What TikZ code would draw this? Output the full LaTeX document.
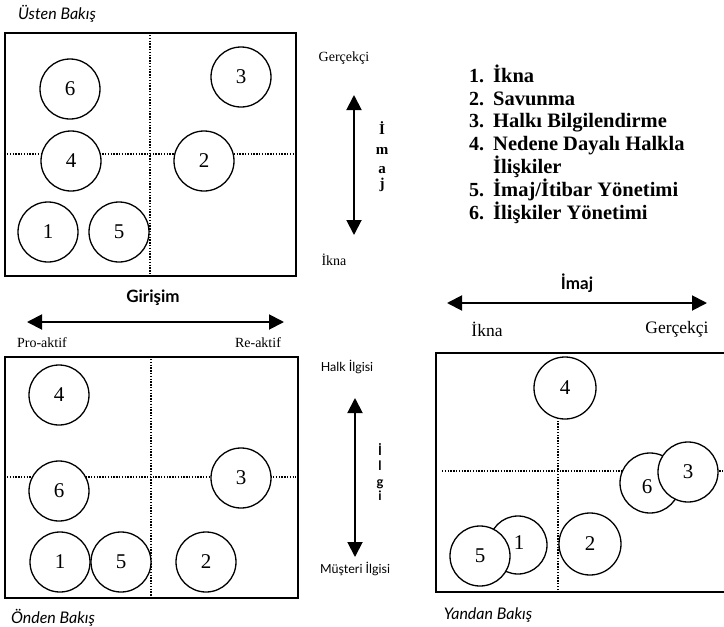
\documentclass[tikz,border=0pt]{standalone}
\usepackage{fontspec}
\setmainfont{Liberation Serif}
\newfontfamily\labelsans{Lato}
\usetikzlibrary{arrows.meta}

\begin{document}
\begin{tikzpicture}[x=1pt,y=-1pt,
  frame/.style={line width=2.6pt},
  gridline/.style={line width=1.4pt, dash pattern=on 1.4pt off 1.4pt},
  numfont/.style={font=\fontsize{21}{21}\selectfont},
  bubble/.style={circle, draw, line width=1.3pt, fill=white, minimum size=60pt,
    inner sep=0pt, numfont},
  axis/.style={line width=1.9pt,
    {Triangle[length=15pt,width=15pt]}-{Triangle[length=15pt,width=15pt]}},
  viewtitle/.style={font=\labelsans\itshape\fontsize{16}{16}\selectfont},
  axistitle/.style={font=\labelsans\bfseries\fontsize{17}{17}\selectfont},
  endlabel/.style={font=\fontsize{14}{14}\selectfont},
  biglabel/.style={font=\fontsize{17.5}{17.5}\selectfont},
  endsans/.style={font=\labelsans\fontsize{12.5}{12.5}\selectfont},
  vletter/.style={anchor=base, inner sep=0pt, font=\bfseries\fontsize{15}{15}\selectfont},
  vsans/.style={anchor=base, inner sep=0pt, font=\labelsans\bfseries\fontsize{13}{13}\selectfont},
  legnum/.style={anchor=base west, inner sep=0pt, font=\bfseries\fontsize{20}{20}\selectfont},
  legtext/.style={anchor=base west, inner sep=0pt, font=\bfseries\fontsize{20.5}{20.5}\selectfont},
]
\useasboundingbox (0,0) rectangle (724,627);

% ---------- top view ----------
\node[viewtitle] (ttitle) at (57,14) {Üsten Bakış};
\draw[gridline] (150,35) -- (150,275);
\draw[gridline] (7,154) -- (295,154);
\draw[frame] (5,33) rectangle (296,276);
\node[bubble] (t6) at (70,89)  {6};
\node[bubble] (t3) at (241,77) {3};
\node[bubble] (t4) at (71,161) {4};
\node[bubble] (t2) at (204,161) {2};
\node[bubble] (t1) at (48,232) {1};
\node[bubble] (t5) at (119,232) {5};

% vertical image axis
\node[endlabel] (tgercek) at (344,58) {Gerçekçi};
\node[endlabel] (tikna) at (334,260) {İkna};
\coordinate (tup) at (354,95);
\coordinate (tdown) at (354,235);
\draw[axis] (tup) -- (tdown);
\node[vletter] (ti1) at (382,134) {İ};
\node[vletter] (ti2) at (382,154) {m};
\node[vletter] (ti3) at (382,173) {a};
\node[vletter] (ti4) at (382,188) {j};

% legend
\node[legnum] (n1) at (469,82)  {1.};
\node[legtext] (l1) at (493,82)  {İkna};
\node[legnum] (n2) at (469,105) {2.};
\node[legtext] (l2) at (493,105) {Savunma};
\node[legnum] (n3) at (469,127) {3.};
\node[legtext] (l3) at (493,127) {Halkı Bilgilendirme};
\node[legnum] (n4) at (469,150) {4.};
\node[legtext] (l4) at (493,150) {Nedene Dayalı Halkla};
\node[legtext] (l4b) at (493,173) {İlişkiler};
\node[legnum] (n5) at (469,196) {5.};
\node[legtext] (l5) at (493,196) {İmaj/İtibar Yönetimi};
\node[legnum] (n6) at (469,219) {6.};
\node[legtext] (l6) at (493,219) {İlişkiler Yönetimi};

% ---------- front view ----------
\node[axistitle] (girisim) at (153,298) {Girişim};
\coordinate (fleft) at (27,322);
\coordinate (fright) at (284,322);
\draw[axis] (fleft) -- (fright);
\node[endlabel] (proaktif) at (42,343) {Pro-aktif};
\node[endlabel] (reaktif) at (258,343) {Re-aktif};

\draw[gridline] (151,359) -- (151,597);
\draw[gridline] (7,477) -- (296,477);
\draw[frame] (5,357) rectangle (298,598);
\node[bubble] (f4) at (59,395) {4};
\node[bubble] (f6) at (59,491) {6};
\node[bubble] (f3) at (241,478) {3};
\node[bubble] (f1) at (60,562) {1};
\node[bubble] (f5) at (121,562) {5};
\node[bubble] (f2) at (206,562) {2};
\node[viewtitle] (ftitle) at (53,618) {Önden Bakış};

% vertical interest axis
\node[endsans] (halk) at (347,367) {Halk İlgisi};
\node[endsans] (musteri) at (355,569) {Müşteri İlgisi};
\coordinate (fup) at (355,398);
\coordinate (fdown) at (355,557);
\draw[axis] (fup) -- (fdown);
\node[vsans] (fi1) at (380,455) {İ};
\node[vsans] (fi2) at (380,470) {l};
\node[vsans] (fi3) at (380,486) {g};
\node[vsans] (fi4) at (380,500) {i};

% ---------- side view ----------
\node[axistitle] (imaj) at (577,283) {İmaj};
\coordinate (sleft) at (447,303);
\coordinate (sright) at (707,303);
\draw[axis] (sleft) -- (sright);
\node[biglabel] (sikna) at (487,329) {İkna};
\node[biglabel] (sgercek) at (677,329) {Gerçekçi};

\draw[gridline] (558,590) -- (558,415);
\draw[gridline] (442,471) -- (724,471);
\draw[frame] (724,353) -- (436,353) -- (436,592) -- (724,592);
\node[bubble, minimum size=62pt] (s4) at (565,388) {4};
\node[bubble] (s6) at (650,483) {};
\node[numfont] (s6lab) at (647,487) {6};
\node[bubble] (s3) at (688,472) {3};
\node[bubble, minimum size=58pt] (s1) at (518,545) {};
\node[numfont] (s1lab) at (519,543) {1};
\node[bubble] (s5) at (480,556) {5};
\node[bubble, minimum size=62pt] (s2) at (590,544) {2};
\node[viewtitle] (stitle) at (488,615) {Yandan Bakış};
\end{tikzpicture}
\end{document}
